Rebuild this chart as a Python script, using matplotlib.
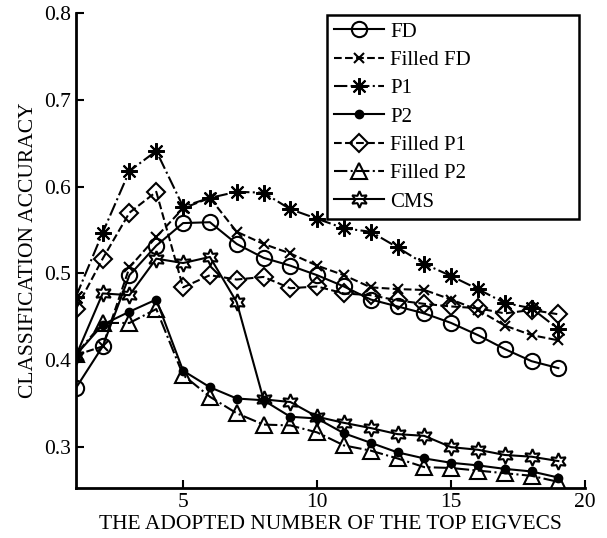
import numpy as np
import matplotlib.pyplot as plt

plt.rcParams['font.family'] = ['Liberation Serif', 'DejaVu Serif']

n_vecs = np.arange(1, 20)

fd = [0.368, 0.416, 0.498, 0.532, 0.558, 0.559, 0.534, 0.518, 0.509, 0.498,
      0.485, 0.470, 0.462, 0.454, 0.443, 0.429, 0.413, 0.399, 0.391]
filled_fd = [0.406, 0.416, 0.507, 0.542, 0.575, 0.587, 0.548, 0.534, 0.523, 0.509,
             0.498, 0.484, 0.482, 0.481, 0.470, 0.458, 0.440, 0.429, 0.423]
p1 = [0.473, 0.547, 0.618, 0.641, 0.577, 0.587, 0.594, 0.593, 0.574, 0.563,
      0.552, 0.548, 0.530, 0.511, 0.497, 0.482, 0.466, 0.460, 0.436]
p2 = [0.406, 0.441, 0.456, 0.470, 0.388, 0.369, 0.356, 0.354, 0.335, 0.333,
      0.316, 0.305, 0.294, 0.287, 0.282, 0.279, 0.275, 0.272, 0.265]
filled_p1 = [0.459, 0.517, 0.570, 0.594, 0.484, 0.498, 0.493, 0.496, 0.483, 0.485,
             0.477, 0.475, 0.469, 0.465, 0.462, 0.460, 0.454, 0.458, 0.453]
filled_p2 = [0.407, 0.443, 0.443, 0.459, 0.383, 0.358, 0.339, 0.326, 0.325, 0.317,
             0.302, 0.296, 0.287, 0.277, 0.276, 0.273, 0.270, 0.267, 0.260]
cms = [0.405, 0.477, 0.475, 0.517, 0.512, 0.519, 0.467, 0.355, 0.352, 0.335,
       0.328, 0.322, 0.315, 0.313, 0.300, 0.297, 0.291, 0.289, 0.284]

fig = plt.figure(figsize=(6.07, 5.38), dpi=100)
ax = fig.add_axes([0.125, 0.093, 0.839, 0.883])

lw = 1.5
ax.plot(n_vecs, fd, '-', color='k', lw=lw, marker='o', ms=11, mfc='none', mew=lw, label='FD')
ax.plot(n_vecs, filled_fd, '--', color='k', lw=lw, marker='x', ms=7, mew=lw, label='Filled FD')
ax.plot(n_vecs, p1, '-.', color='k', lw=lw, marker=(8, 2, 0), ms=12, mew=lw, label='P1')
ax.plot(n_vecs, p2, '-', color='k', lw=lw, marker='o', ms=6, mfc='k', label='P2')
ax.plot(n_vecs, filled_p1, '--', color='k', lw=lw, marker='D', ms=9, mfc='none', mew=lw, label='Filled P1')
ax.plot(n_vecs, filled_p2, '-.', color='k', lw=lw, marker='^', ms=12, mfc='none', mew=lw, label='Filled P2')
ax.plot(n_vecs, cms, '-', color='k', lw=lw, marker=(6, 1, 0), ms=12, mfc='none', mew=lw, label='CMS')

ax.set_xlim(1, 20)
ax.set_ylim(0.253, 0.8)
ax.set_xticks([5, 10, 15, 20])
ax.set_yticks([0.3, 0.4, 0.5, 0.6, 0.7, 0.8])
ax.set_yticklabels(['0.3', '0.4', '0.5', '0.6', '0.7', '0.8'])
ax.tick_params(direction='in', length=6, width=1.5, labelsize=15.5)
for s in ['top', 'right']:
    ax.spines[s].set_visible(False)
for s in ['left', 'bottom']:
    ax.spines[s].set_linewidth(2)

ax.set_xlabel('THE ADOPTED NUMBER OF THE TOP EIGVECS', fontsize=15.5, labelpad=2)
ax.set_ylabel('CLASSIFICATION ACCURACY', fontsize=15.5, labelpad=4)

leg = ax.legend(loc='upper left', bbox_to_anchor=(0.493, 0.57, 0.495, 0.426), mode='expand',
                borderaxespad=0, fontsize=15, fancybox=False, framealpha=1, edgecolor='k',
                handlelength=2.4, handletextpad=0.3, labelspacing=0.42, borderpad=0.35)
leg.get_frame().set_linewidth(1.8)

fig.savefig('out.png', dpi=100)
